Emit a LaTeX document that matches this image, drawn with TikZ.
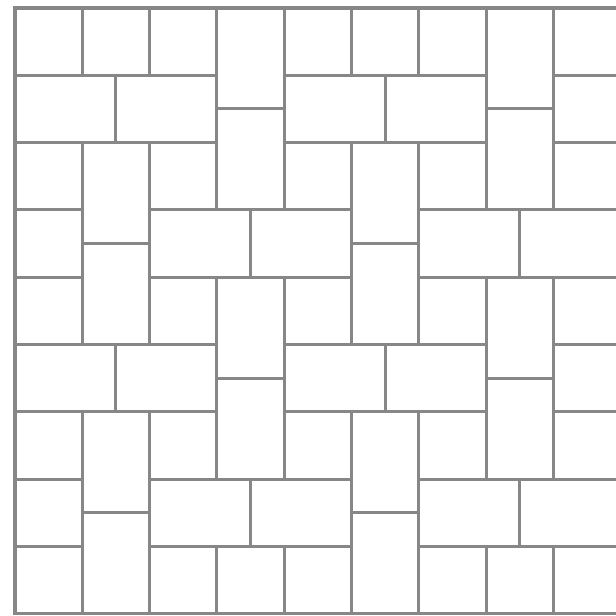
\documentclass[tikz,border=0pt]{standalone}
\usepackage{xcolor}
\usepackage{tikz}
\begin{document}
\begin{tikzpicture}[x=1cm,y=-1cm,
 tile/.style={draw=black!47,line width=1.3pt},
 frame/.style={tile}]
\useasboundingbox (-0.223,-0.119) rectangle (8.915,9.034);
\begin{scope}
\clip (0,0) rectangle (9,9);
\foreach \i in {-1,...,2}
 \foreach \j in {-1,...,2} {
  \begin{scope}[shift={(4*\i,4*\j)}]
   \foreach \p in {(0,0),(2,0),(0,2),(2,2)}
    \draw[tile] \p rectangle +(1,1);
   \draw[tile] (1,2) rectangle (2,3.5);
   \draw[tile] (1,3.5) rectangle (2,5);
   \draw[tile] (3,0) rectangle (4,1.5);
   \draw[tile] (3,1.5) rectangle (4,3);
   \draw[tile] (0,1) rectangle (1.5,2);
   \draw[tile] (1.5,1) rectangle (3,2);
   \draw[tile] (2,3) rectangle (3.5,4);
   \draw[tile] (3.5,3) rectangle (5,4);
  \end{scope}
 }
\end{scope}
\draw[frame] (0,0) rectangle (9,9);
\end{tikzpicture}
\end{document}
